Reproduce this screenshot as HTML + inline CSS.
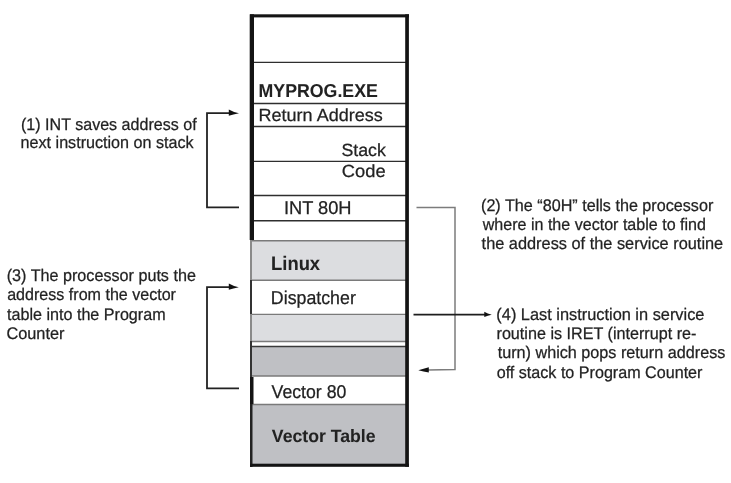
<!DOCTYPE html>
<html><head><meta charset="utf-8">
<style>
html,body{margin:0;padding:0;background:#fff;}
body{width:731px;height:483px;overflow:hidden;}
svg{display:block;will-change:transform;filter:blur(0.35px);}
text{text-rendering:geometricPrecision;font-family:"Liberation Sans",sans-serif;fill:#222;stroke:#222;stroke-width:0.25px;}
.s{font-size:16px;}
.b{font-size:17px;}
.bb{font-size:17px;font-weight:bold;stroke-width:0.05px;}
</style></head>
<body>
<svg width="731" height="483" viewBox="0 0 731 483">
  <rect x="250" y="241" width="157" height="39" fill="#dcdde0"/>
  <rect x="250" y="315" width="157" height="26.5" fill="#dcdde0"/>
  <rect x="250" y="347" width="157" height="29" fill="#bfc0c4"/>
  <rect x="250" y="405" width="157" height="60" fill="#bfc0c4"/>
  <g stroke="#2e2e2e" stroke-width="1.4">
    <line x1="252" y1="62.4" x2="406" y2="62.4"/>
    <line x1="252" y1="103.5" x2="406" y2="103.5"/>
    <line x1="252" y1="126.5" x2="406" y2="126.5"/>
    <line x1="252" y1="161.4" x2="406" y2="161.4"/>
    <line x1="252" y1="195.5" x2="406" y2="195.5"/>
    <line x1="252" y1="220.7" x2="406" y2="220.7"/>
  </g>
  <g stroke="#7a7a7a" stroke-width="1.4">
    <line x1="250" y1="240.7" x2="406" y2="240.7"/>
    <line x1="250" y1="280.2" x2="406" y2="280.2"/>
    <line x1="250" y1="314.4" x2="406" y2="314.4"/>
    <line x1="250" y1="341.5" x2="406" y2="341.5"/>
    <line x1="250" y1="376" x2="406" y2="376"/>
    <line x1="250" y1="404.5" x2="406" y2="404.5"/>
  </g>
  <g stroke="#3a3a3a" stroke-width="1.4">
    <line x1="250" y1="346.5" x2="406" y2="346.5"/>
  </g>
  <rect x="249.7" y="14.3" width="4.3" height="225.7" fill="#141414"/>
  <rect x="250" y="240" width="2" height="40" fill="#8a8a8a"/>
  <rect x="250" y="280" width="2" height="34" fill="#333"/>
  <rect x="250" y="314" width="2" height="28" fill="#8a8a8a"/>
  <rect x="250" y="341" width="2" height="36" fill="#333"/>
  <rect x="250" y="377" width="3.5" height="27" fill="#141414"/>
  <rect x="250" y="404" width="2.5" height="63" fill="#222"/>
  <rect x="250" y="14.3" width="159" height="3.1" fill="#141414"/>
  <rect x="405.2" y="14.3" width="3.7" height="452.5" fill="#141414"/>
  <rect x="250" y="463.7" width="159" height="3.1" fill="#141414"/>
  <g stroke="#222" stroke-width="1.8" fill="none">
    <polyline points="230,113.2 207,113.2 207,207.3 239,207.3"/>
    <polyline points="230,287.2 207,287.2 207,388.3 239,388.3"/>
  </g>
  <path d="M228.8,109.6 Q233,112.2 239,113.2 Q233,114.2 228.8,115.8 Z" fill="#111"/>
  <path d="M228.8,283.6 Q233,286.2 238.8,287.2 Q233,288.2 228.8,289.7 Z" fill="#111"/>
  <g stroke="#7c7c7c" stroke-width="1.5" fill="none">
    <polyline points="416.5,207.5 455,207.5 455,369.5 428,370"/>
  </g>
  <path d="M418.3,370.3 Q423.5,369 428.8,367.3 L428.8,372.6 Q423.5,371.5 418.3,370.3 Z" fill="#111"/>
  <line x1="413.5" y1="314.7" x2="486" y2="314.7" stroke="#1e1e1e" stroke-width="1.8"/>
  <path d="M484.3,311.8 Q487.5,313.9 491.8,314.7 Q487.5,315.5 484.3,317.1 Z" fill="#111"/>
  <text class="bb" x="258.60" y="97.00" textLength="119.24" lengthAdjust="spacingAndGlyphs" style="font-size:18.70px">MYPROG.EXE</text>
  <text class="b" x="258.60" y="121.00" textLength="124.11" lengthAdjust="spacingAndGlyphs" style="font-size:17.60px">Return Address</text>
  <text class="b" x="341.40" y="156.00" textLength="44.52" lengthAdjust="spacingAndGlyphs" style="font-size:17.60px">Stack</text>
  <text class="b" x="341.80" y="177.00" textLength="43.78" lengthAdjust="spacingAndGlyphs" style="font-size:17.60px">Code</text>
  <text class="b" x="283.90" y="214.00" textLength="67.65" lengthAdjust="spacingAndGlyphs" style="font-size:18.50px">INT 80H</text>
  <text class="bb" x="271.05" y="270.00" textLength="49.05" lengthAdjust="spacingAndGlyphs" style="font-size:19.50px">Linux</text>
  <text class="b" x="270.85" y="304.00" textLength="84.96" lengthAdjust="spacingAndGlyphs" style="font-size:18.60px">Dispatcher</text>
  <text class="b" x="271.60" y="398.00" textLength="74.77" lengthAdjust="spacingAndGlyphs" style="font-size:18.50px">Vector 80</text>
  <text class="bb" x="271.85" y="442.00" textLength="103.68" lengthAdjust="spacingAndGlyphs" style="font-size:17.80px">Vector Table</text>
  <text class="s" x="21.00" y="130.00" textLength="175.63" lengthAdjust="spacingAndGlyphs" style="font-size:16.80px">(1) INT saves address of</text>
  <text class="s" x="20.60" y="148.00" textLength="173.02" lengthAdjust="spacingAndGlyphs" style="font-size:16.80px">next instruction on stack</text>
  <text class="s" x="6.70" y="281.00" textLength="189.22" lengthAdjust="spacingAndGlyphs" style="font-size:16.80px">(3) The processor puts the</text>
  <text class="s" x="7.20" y="300.00" textLength="168.78" lengthAdjust="spacingAndGlyphs" style="font-size:16.80px">address from the vector</text>
  <text class="s" x="7.00" y="320.00" textLength="158.60" lengthAdjust="spacingAndGlyphs" style="font-size:16.80px">table into the Program</text>
  <text class="s" x="6.40" y="339.00" textLength="58.07" lengthAdjust="spacingAndGlyphs" style="font-size:16.80px">Counter</text>
  <text class="s" x="481.00" y="211.00" textLength="232.32" lengthAdjust="spacingAndGlyphs" style="font-size:16.80px">(2) The “80H” tells the processor</text>
  <text class="s" x="482.70" y="230.00" textLength="223.27" lengthAdjust="spacingAndGlyphs" style="font-size:16.80px">where in the vector table to find</text>
  <text class="s" x="481.60" y="249.00" textLength="241.61" lengthAdjust="spacingAndGlyphs" style="font-size:16.80px">the address of the service routine</text>
  <text class="s" x="496.35" y="320.00" textLength="208.07" lengthAdjust="spacingAndGlyphs" style="font-size:16.80px">(4) Last instruction in service</text>
  <text class="s" x="496.50" y="339.00" textLength="199.90" lengthAdjust="spacingAndGlyphs" style="font-size:16.80px">routine is IRET (interrupt re-</text>
  <text class="s" x="497.70" y="358.00" textLength="227.66" lengthAdjust="spacingAndGlyphs" style="font-size:16.80px">turn) which pops return address</text>
  <text class="s" x="496.70" y="378.00" textLength="205.76" lengthAdjust="spacingAndGlyphs" style="font-size:16.80px">off stack to Program Counter</text>
</svg>
</body></html>
